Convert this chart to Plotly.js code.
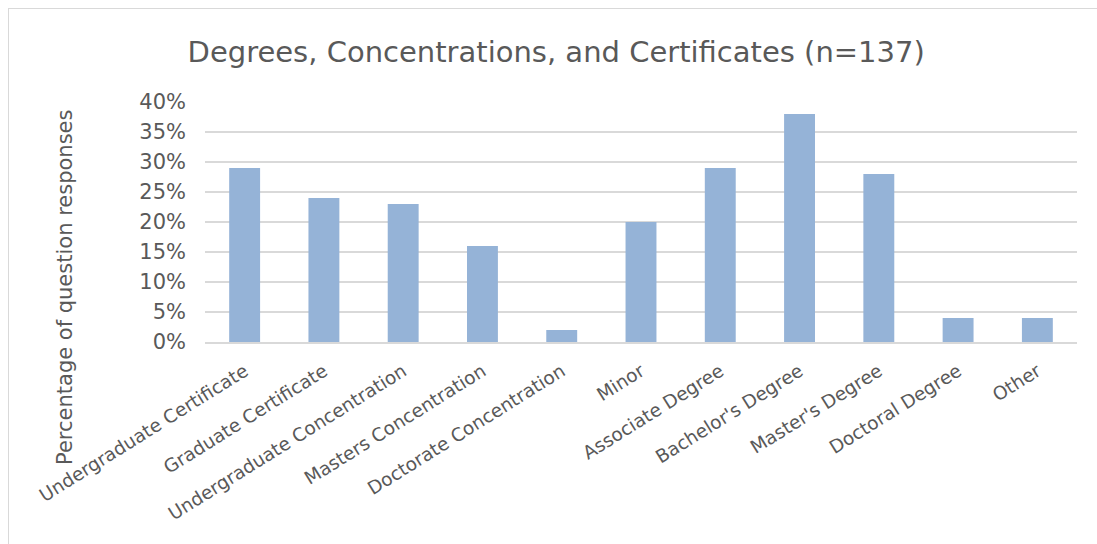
<!DOCTYPE html>
<html>
<head>
<meta charset="utf-8">
<script src="https://cdn.plot.ly/plotly-3.0.1.min.js"></script>
<style>
  html, body { margin: 0; padding: 0; overflow: hidden; background: #fff; }
  #wrap { position: relative; width: 1097px; height: 544px; }
  #chart { position: absolute; left: 0; top: 0; width: 1097px; height: 544px; }
  #frame { position: absolute; left: 8px; top: 8px; width: 1200px; height: 600px;
           border: 1.5px solid #D9D9D9; pointer-events: none; }
</style>
</head>
<body>
<div id="wrap">
  <div id="chart"></div>
  <div id="frame"></div>
</div>
<script>
const categories = [
  "Undergraduate Certificate",
  "Graduate Certificate",
  "Undergraduate Concentration",
  "Masters Concentration",
  "Doctorate Concentration",
  "Minor",
  "Associate Degree",
  "Bachelor's Degree",
  "Master's Degree",
  "Doctoral Degree",
  "Other"
];
const percentages = [29, 24, 23, 16, 2, 20, 29, 38, 28, 4, 4];
const yTickValues = [0, 5, 10, 15, 20, 25, 30, 35, 40];

const fontFamily = "'DejaVu Sans', 'Noto Sans', sans-serif";
const textColor = "#595959";

const trace = {
  type: "bar",
  x: categories,
  y: percentages,
  marker: { color: "#95B3D7" },
  hoverinfo: "none"
};

const layout = {
  width: 1097,
  height: 544,
  margin: { l: 205, r: 20, t: 102, b: 202 },
  paper_bgcolor: "#ffffff",
  plot_bgcolor: "#ffffff",
  bargap: 0.61,
  showlegend: false,
  font: { family: fontFamily, color: textColor },
  title: {
    text: "Degrees, Concentrations, and Certificates (n=137)",
    font: { family: fontFamily, size: 29, color: textColor },
    x: 0.507, xanchor: "center",
    y: 0.905, yanchor: "middle",
    xref: "container", yref: "container"
  },
  xaxis: {
    type: "category",
    tickangle: -32,
    tickfont: { family: fontFamily, size: 18.5, color: textColor },
    showgrid: false,
    showline: true,
    linecolor: "#D9D9D9",
    linewidth: 1.5,
    ticks: "",
    ticklabelstandoff: 10,
    automargin: false
  },
  yaxis: {
    range: [0, 40],
    tickvals: yTickValues,
    ticktext: yTickValues.map(v => v + "%"),
    tickfont: { family: fontFamily, size: 21, color: textColor },
    showgrid: true,
    gridcolor: "#D9D9D9",
    gridwidth: 1.5,
    zeroline: false,
    showline: false,
    ticks: "",
    ticklabelstandoff: 18,
    automargin: false
  },
  annotations: [{
    text: "Percentage of question responses",
    xref: "paper", yref: "paper",
    x: -0.1606, y: 0.229,
    xanchor: "center", yanchor: "middle",
    textangle: -90,
    showarrow: false,
    font: { family: fontFamily, size: 21, color: textColor }
  }]
};

Plotly.newPlot("chart", [trace], layout, { displayModeBar: false, staticPlot: true });
</script>
</body>
</html>
